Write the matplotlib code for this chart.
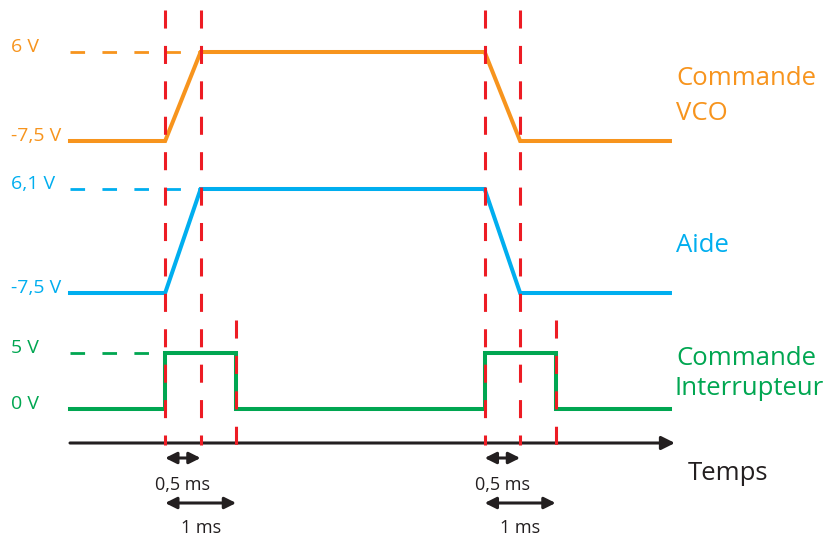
import matplotlib
matplotlib.use('Agg')
import matplotlib.pyplot as plt

plt.rcParams['font.family'] = ['Open Sans', 'DejaVu Sans']
plt.rcParams['lines.scale_dashes'] = False

# temps en ms et etat (0 = bas, 1 = haut) de chaque signal
t_vco = [0, 1.34, 1.84, 5.84, 6.34, 8.45]
etat_vco = [0, 0, 1, 1, 0, 0]
t_aide = [0, 1.34, 1.84, 5.84, 6.34, 8.45]
etat_aide = [0, 0, 1, 1, 0, 0]
t_inter = [0, 1.34, 1.34, 2.34, 2.34, 5.84, 5.84, 6.84, 6.84, 8.45]
etat_inter = [0, 0, 1, 1, 0, 0, 1, 1, 0, 0]

niveaux_vco = ['-7,5 V', '6 V']
niveaux_aide = ['-7,5 V', '6,1 V']
niveaux_inter = ['0 V', '5 V']

reperes_longs = [1.34, 1.84, 5.84, 6.34]
reperes_courts = [2.34, 6.84]
fin_axe = 8.52

ORANGE = '#F7941D'
BLEU = '#00AEEF'
VERT = '#00A651'
ROUGE = '#ED1C24'
NOIR = '#231F20'

PX_MS = 71.0   # pixels par ms
X0 = 70.0      # pixel du temps 0

def tx(px):
    return (px - X0) / PX_MS

fig = plt.figure(figsize=(8.26, 5.39), dpi=100)
ax = fig.add_axes([0, 0, 1, 1])
ax.set_xlim(tx(0), tx(826))
ax.set_ylim(539, 0)
ax.axis('off')

# (pixel bas, pixel haut) de chaque piste
pistes = [
    (t_vco, etat_vco, niveaux_vco, ORANGE, 141, 52, 1.84),
    (t_aide, etat_aide, niveaux_aide, BLEU, 293, 189, 1.84),
    (t_inter, etat_inter, niveaux_inter, VERT, 409, 353, 1.34),
]

for t, etat, niv, c, y_bas, y_haut, t_guide in pistes:
    y = [y_bas + e * (y_haut - y_bas) for e in etat]
    ax.plot(t, y, color=c, lw=2.9, solid_joinstyle='miter', zorder=3)
    ax.plot([0, t_guide], [y_haut, y_haut], color=c, lw=2.0,
            dashes=(10.5, 12.5), dash_capstyle='butt', zorder=2)
    ax.text(tx(11), y_bas, niv[0], color=c, fontsize=14, va='baseline', ha='left')
    ax.text(tx(11), y_haut, niv[1], color=c, fontsize=14, va='baseline', ha='left')

# reperes verticaux rouges
for t in reperes_longs:
    ax.plot([t, t], [10, 445], color=ROUGE, lw=2.2, dashes=(13, 12.5),
            dash_capstyle='butt', zorder=4)
for t in reperes_courts:
    ax.plot([t, t], [320, 445], color=ROUGE, lw=2.2, dashes=(13, 12.5),
            dash_capstyle='butt', zorder=4)

# axe du temps
ax.annotate('', xy=(fin_axe, 443), xytext=(0, 443),
            arrowprops=dict(arrowstyle='-|>', color=NOIR, lw=2.2,
                            mutation_scale=20, shrinkA=0, shrinkB=0))
ax.text(tx(688), 480, 'Temps', color=NOIR, fontsize=18.5, va='baseline', ha='left')

# noms des signaux
ax.text(tx(676), 85, 'Commande', color=ORANGE, fontsize=18.5, va='baseline')
ax.text(tx(676), 120, 'VCO', color=ORANGE, fontsize=18.5, va='baseline')
ax.text(tx(676), 252, 'Aide', color=BLEU, fontsize=18.5, va='baseline')
ax.text(tx(676), 365, 'Commande', color=VERT, fontsize=18.5, va='baseline')
ax.text(tx(674), 395, 'Interrupteur', color=VERT, fontsize=18.5, va='baseline')

# durees
for t in [reperes_longs[0], reperes_longs[2]]:
    ax.annotate('', xy=(t + 0.5, 458), xytext=(t, 458),
                arrowprops=dict(arrowstyle='<|-|>', color=NOIR, lw=2.2,
                                mutation_scale=17, shrinkA=0, shrinkB=0))
    ax.text(t + 0.25, 490, '0,5 ms', color=NOIR, fontsize=13,
            ha='center', va='baseline')
    ax.annotate('', xy=(t + 1.0, 503), xytext=(t, 503),
                arrowprops=dict(arrowstyle='<|-|>', color=NOIR, lw=2.2,
                                mutation_scale=17, shrinkA=0, shrinkB=0))
    ax.text(t + 0.5, 533, '1 ms', color=NOIR, fontsize=13,
            ha='center', va='baseline')

plt.savefig('out.png', dpi=100)
